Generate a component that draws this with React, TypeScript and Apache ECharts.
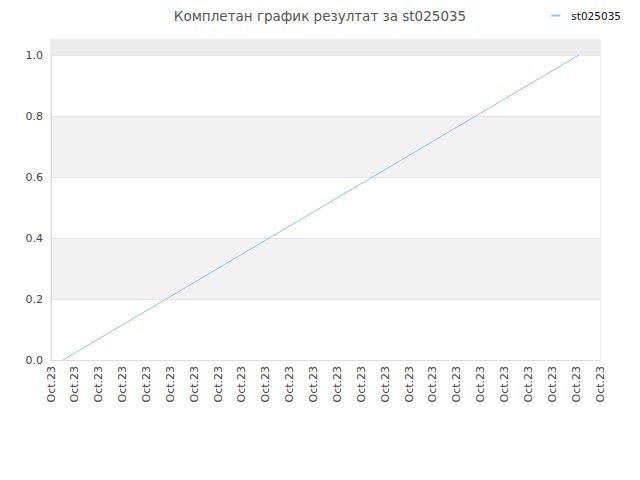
import { useEffect, useRef } from 'react';
import * as echarts from 'echarts';

const seriesName = 'st025035';
const titleText = 'Комплетан график резултат за st025035';
// x position in tick units (each tick is labelled "Oct.23"), y result
const pointX = [0.5, 22.1];
const pointY = [0, 1.0];
const tickLabel = 'Oct.23';
const tickCount = 23;

const App = () => {
    const chartRef = useRef<HTMLDivElement>(null);

    useEffect(() => {
        if (!chartRef.current) return;
        const chart = echarts.init(chartRef.current, undefined, { renderer: 'svg' });
        chart.setOption({
            animation: false,
            textStyle: { fontFamily: 'DejaVu Sans' },
            title: {
                text: titleText,
                left: 'center',
                top: 4,
                textStyle: { fontSize: 13.5, fontWeight: 'normal', color: '#555' },
            },
            legend: {
                right: 14,
                top: 5,
                itemWidth: 9,
                itemHeight: 2,
                icon: 'rect',
                textStyle: { fontSize: 10.5, color: '#111', padding: [0, 0, 0, 6] },
                data: [seriesName],
            },
            grid: {
                left: 51,
                right: 40,
                top: 40,
                bottom: 120,
                show: true,
                borderColor: '#dddddd',
                borderWidth: 1,
            },
            xAxis: {
                type: 'value',
                min: 0,
                max: tickCount,
                interval: 1,
                axisLine: { show: true, lineStyle: { color: '#dddddd' } },
                axisTick: { show: false },
                splitLine: { show: false },
                axisLabel: {
                    rotate: 90,
                    fontSize: 11,
                    color: '#444',
                    margin: 6,
                    formatter: () => tickLabel,
                },
            },
            yAxis: {
                type: 'value',
                min: 0,
                max: 1.05,
                interval: 0.2,
                axisLine: { show: true, lineStyle: { color: '#dddddd' } },
                axisTick: { show: false },
                axisLabel: {
                    fontSize: 11,
                    color: '#444',
                    formatter: (v: number) => (v > 1.01 ? '' : v.toFixed(1)),
                },
                splitLine: { show: true, lineStyle: { color: '#e4e4e4' } },
                splitArea: { show: true, areaStyle: { color: ['#ffffff', '#f2f2f2'] } },
            },
            series: [
                {
                    name: seriesName,
                    type: 'line',
                    data: pointX.map((x, i) => [x, pointY[i]]),
                    showSymbol: false,
                    lineStyle: { color: '#90c3f3', width: 1 },
                    itemStyle: { color: '#90c3f3' },
                    markArea: {
                        silent: true,
                        itemStyle: { color: '#ebebeb' },
                        data: [[{ yAxis: 1.0 }, { yAxis: 1.05 }]],
                    },
                },
            ],
        });
        return () => {
            chart.dispose();
        };
    }, []);

    return <div ref={chartRef} style={{ width: '640px', height: '480px', margin: '-8px' }} />;
};

export default App;
